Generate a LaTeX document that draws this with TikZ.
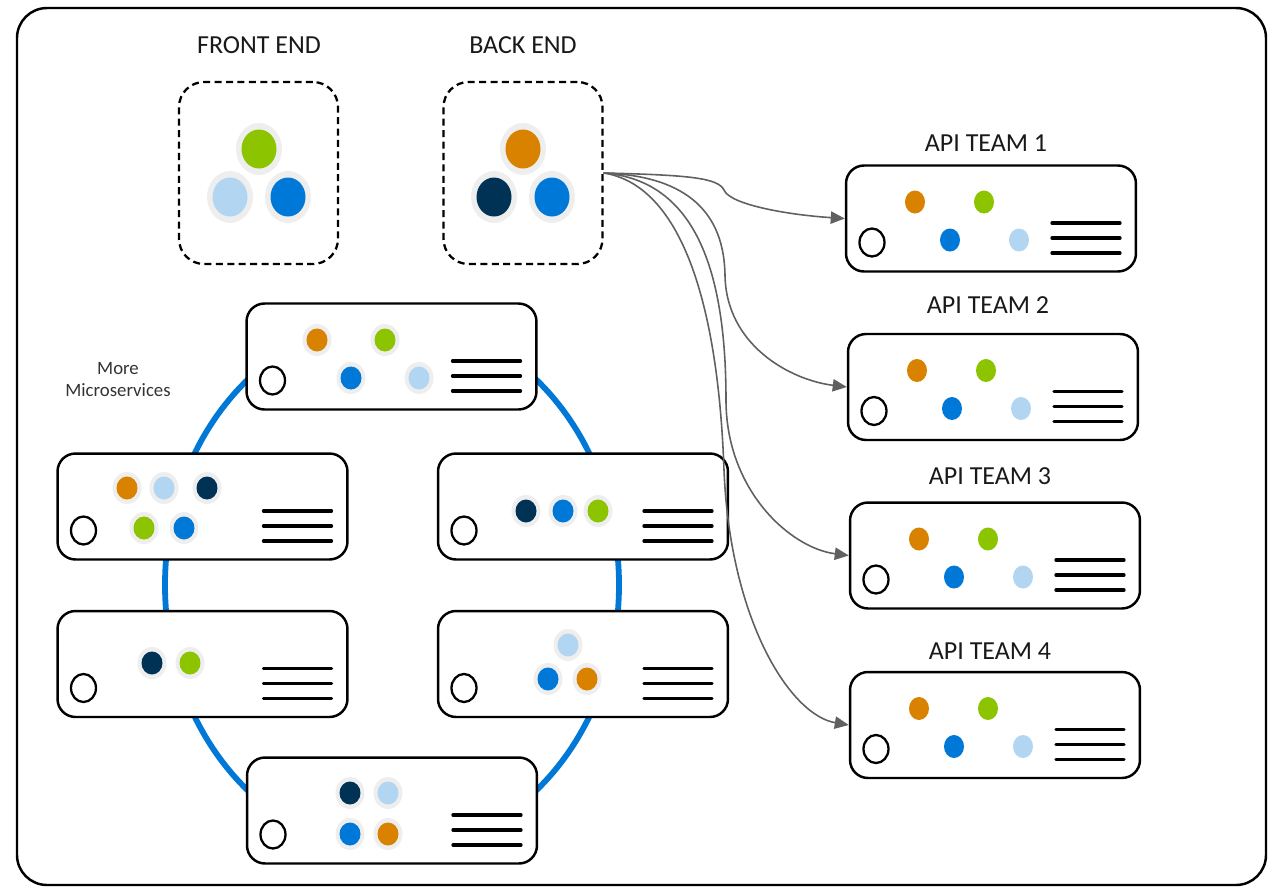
\documentclass[tikz,border=0pt]{standalone}
\usepackage{fontspec}
\setmainfont{Carlito}
\usetikzlibrary{arrows.meta}
\definecolor{cgreen}{RGB}{140,196,0}
\definecolor{corange}{RGB}{217,130,0}
\definecolor{cnavy}{RGB}{0,50,86}
\definecolor{cblue}{RGB}{0,120,215}
\definecolor{clblue}{RGB}{178,214,241}
\definecolor{chalo}{RGB}{238,238,238}
\definecolor{cgray}{RGB}{96,96,96}
\newcommand\sdot[3]{\fill[chalo] (#1,#2) ellipse [x radius=14.5, y radius=16];\fill[#3] (#1,#2) ellipse [x radius=10.5, y radius=11.5];}
\newcommand\bdot[3]{\fill[chalo] (#1,#2) ellipse [x radius=23, y radius=26];\fill[#3] (#1,#2) ellipse [x radius=17.5, y radius=19.5];}
\newcommand\pdot[3]{\fill[#3] (#1,#2) ellipse [x radius=10, y radius=11.5];}
\newcommand\boxbits[2]{%
  \begin{scope}[shift={(#1,#2)}]
    \draw[line width=1.3pt] (-119,24) ellipse [x radius=12.5, y radius=14];
    \foreach \yy in {4.5,19.5,34.5} \draw[line width=1.9pt, line cap=round] (61,\yy) -- (129,\yy);
  \end{scope}}
\tikzset{
  srvbox/.style={draw, line width=1.4pt, fill=white, rounded corners=0.36cm, minimum width=5.8cm, minimum height=2.12cm, inner sep=0pt},
  dashbox/.style={draw, line width=1.3pt, dash pattern=on 4pt off 2.5pt, rounded corners=0.5cm, minimum width=3.18cm, minimum height=3.64cm, inner sep=0pt},
  lbl/.style={font=\fontsize{14.8}{17}\selectfont, text=black!90},
  arr/.style={draw=cgray, line width=0.9pt, -{Triangle[length=8pt,width=7pt]}},
}
\begin{document}
\begin{tikzpicture}[x=0.02cm,y=-0.02cm]
\useasboundingbox (0,0) rectangle (1276,887);
\draw[line width=1.4pt, rounded corners=0.6cm] (17,8) rectangle (1266,885);

% ring
\draw[cblue, line width=3.3pt] (392,585) ellipse [x radius=227, y radius=266];

% front / back end
\node[dashbox] (fe) at (258.5,173) {};
\node[dashbox] (be) at (523,173) {};
\node[lbl] (fel) at (259,45) {FRONT END};
\node[lbl] (bel) at (523,45) {BACK END};
\bdot{259}{149}{cgreen}
\bdot{230}{197}{clblue}
\bdot{288}{197}{cblue}
\bdot{523}{149}{corange}
\bdot{494}{197}{cnavy}
\bdot{552}{197}{cblue}

% servers on ring
\node[srvbox] (st) at (391.5,356.5) {};
\boxbits{391.5}{356.5}
\sdot{317}{340}{corange}\sdot{385}{340}{cgreen}\sdot{351}{378}{cblue}\sdot{419}{378}{clblue}

\node[srvbox] (slu) at (202.5,506.5) {};
\boxbits{202.5}{506.5}
\sdot{127}{488}{corange}\sdot{164}{488}{clblue}\sdot{207}{488}{cnavy}\sdot{144}{528}{cgreen}\sdot{184}{528}{cblue}

\node[srvbox] (sru) at (583,506.5) {};
\boxbits{583}{506.5}
\sdot{526}{511}{cnavy}\sdot{563}{511}{cblue}\sdot{598}{511}{cgreen}

\node[srvbox] (sll) at (202.5,664) {};
\boxbits{202.5}{664}
\sdot{152}{663}{cnavy}\sdot{190}{663}{cgreen}

\node[srvbox] (srl) at (583,664) {};
\boxbits{583}{664}
\sdot{568}{645}{clblue}\sdot{548}{679}{cblue}\sdot{587}{679}{corange}

\node[srvbox] (sb) at (392,810.5) {};
\boxbits{392}{810.5}
\sdot{350}{793}{cnavy}\sdot{388}{793}{clblue}\sdot{350}{834}{cblue}\sdot{388}{834}{corange}

\node[font=\fontsize{10.7}{12.5}\selectfont, text=black!80, align=center] (more) at (118,380) {More\\Microservices};

% API teams
\foreach \n/\cx/\cy/\ly in {1/991/218.5/143, 2/993/387/305, 3/995/555.5/476, 4/995/725/651} {
  \node[srvbox] (api\n) at (\cx,\cy) {};
  \node[lbl] (apil\n) at (\cx-5,\ly) {API TEAM \n};
  \boxbits{\cx}{\cy}
  \begin{scope}[shift={(\cx,\cy)}]
    \pdot{-76}{-16.5}{corange}\pdot{-7}{-16.5}{cgreen}\pdot{-41}{21.5}{cblue}\pdot{28}{21.5}{clblue}
  \end{scope}
}

% connectors
\draw[arr] (be.east) .. controls (690,175) and (718,178) .. (724,190) .. controls (730,205) and (790,215) .. (api1.west);
\draw[arr] (be.east) .. controls (690,176) and (724,215) .. (725,275) .. controls (726,345) and (790,380) .. (api2.west);
\draw[arr] (be.east) .. controls (690,180) and (726,260) .. (726,400) .. controls (726,490) and (790,548) .. (api3.west);
\draw[arr] (be.east) .. controls (680,185) and (718,300) .. (724,470) .. controls (730,620) and (790,715) .. (api4.west);
\end{tikzpicture}
\end{document}
